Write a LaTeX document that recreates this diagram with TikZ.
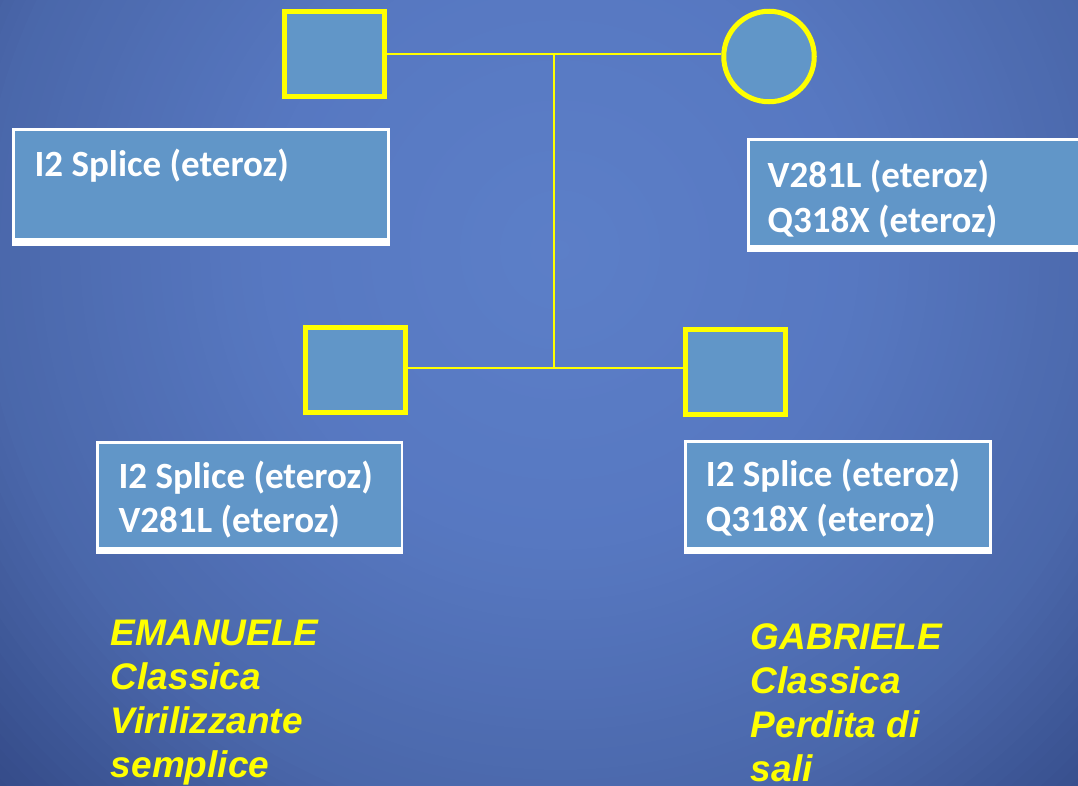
\documentclass[tikz,border=0pt]{standalone}
\usepackage{fontspec}
\setmainfont{Carlito}
\newfontfamily\yfont{Liberation Sans}
\definecolor{bgA}{RGB}{92,127,200}
\definecolor{bgB}{RGB}{87,120,193}
\definecolor{bgC}{RGB}{74,103,170}
\definecolor{bgD}{RGB}{55,78,140}
\definecolor{bgE}{RGB}{50,72,132}
\definecolor{boxblue}{RGB}{97,150,200}
\definecolor{pyellow}{RGB}{255,255,0}
\pgfdeclarelayer{bglayer}
\pgfsetlayers{bglayer,main}
\begin{document}
\begin{tikzpicture}[x=1pt,y=-1pt,
  male/.style={rectangle, draw=pyellow, line width=5pt, fill=boxblue, inner sep=0pt, minimum width=100pt, minimum height=84.4pt},
  female/.style={circle, draw=pyellow, line width=5pt, fill=boxblue, inner sep=0pt, minimum size=90.5pt},
  rel/.style={draw=pyellow, line width=2pt},
  infobox/.style={rectangle, fill=white, inner sep=0pt, outer sep=0pt, anchor=north west},
  ptext/.style={anchor=base west, inner sep=0pt, text=white, font=\fontsize{37pt}{44.5pt}\selectfont\bfseries},
  ytext/.style={anchor=base west, inner sep=0pt, text=pyellow, font=\yfont\fontsize{37pt}{44.2pt}\selectfont\bfseries\itshape}]
\useasboundingbox (0,0) rectangle (1078,785);
\coordinate (bgc) at (560,250);
\begin{pgfonlayer}{bglayer}
\begin{scope}
\clip (0,0) rectangle (1078,785);
\foreach \r in {820,810,...,760} {\pgfmathsetmacro\p{(820-\r)/60*100}\fill[bgD!\p!bgE] (bgc) circle (\r);}
\foreach \r in {750,740,...,580} {\pgfmathsetmacro\p{(760-\r)/180*100}\fill[bgC!\p!bgD] (bgc) circle (\r);}
\foreach \r in {570,560,...,300} {\pgfmathsetmacro\p{(580-\r)/280*100}\fill[bgB!\p!bgC] (bgc) circle (\r);}
\foreach \r in {290,280,...,10} {\pgfmathsetmacro\p{(300-\r)/300*100}\fill[bgA!\p!bgB] (bgc) circle (\r);}
\end{scope}
\end{pgfonlayer}
% pedigree symbols
\node[male] (father) at (334.05,54) {};
\node[female] (mother) at (769,56.5) {};
\node[male] (child1) at (355.8,369.8) {};
\node[male] (child2) at (735.8,372) {};
\coordinate (marriage) at (553.7,53.8);
\coordinate (sibs) at (553.7,367.5);
\begin{pgfonlayer}{bglayer}
\draw[rel] (father.east |- marriage) -- (marriage) -- (mother.west |- marriage);
\draw[rel] (marriage) -- (sibs);
\draw[rel] (child1.east |- sibs) -- (sibs) -- (child2.west |- sibs);
\end{pgfonlayer}
% info boxes
\node[infobox, minimum width=377.1pt, minimum height=117.7pt] (fbox) at (12.4,128) {};
\fill[boxblue] ([shift={(2.8,2.8)}]fbox.north west) rectangle ([shift={(-2.8,-8)}]fbox.south east);
\node[infobox, minimum width=340pt, minimum height=114pt] (mbox) at (746.7,138.3) {};
\fill[boxblue] ([shift={(2.8,2.8)}]mbox.north west) rectangle ([shift={(-2.8,-7.3)}]mbox.south east);
\node[infobox, minimum width=307.3pt, minimum height=113.6pt] (c1box) at (96,440.7) {};
\fill[boxblue] ([shift={(2.8,2.8)}]c1box.north west) rectangle ([shift={(-2.8,-7.8)}]c1box.south east);
\node[infobox, minimum width=307.4pt, minimum height=114.3pt] (c2box) at (684.3,440) {};
\fill[boxblue] ([shift={(2.8,2.8)}]c2box.north west) rectangle ([shift={(-2.8,-7.8)}]c2box.south east);
% texts
\node[ptext] (ftext) at (34.4,176.7) {I2 Splice (eteroz)};
\node[ptext] (mtext) at (767.5,187.5) {\vtop{\hbox{V281L (eteroz)}\hbox{Q318X (eteroz)}}};
\node[ptext] (c1text) at (118.3,488.3) {\vtop{\hbox{I2 Splice (eteroz)}\hbox{V281L (eteroz)}}};
\node[ptext] (c2text) at (705.7,486.7) {\vtop{\hbox{I2 Splice (eteroz)}\hbox{Q318X (eteroz)}}};
\node[ytext] (c1name) at (110.7,645) {\vtop{\hbox{EMANUELE}\hbox{Classica}\hbox{Virilizzante}\hbox{semplice}}};
\node[ytext] (c2name) at (750.7,649) {\vtop{\hbox{GABRIELE}\hbox{Classica}\hbox{Perdita di}\hbox{sali}}};
\end{tikzpicture}
\end{document}
